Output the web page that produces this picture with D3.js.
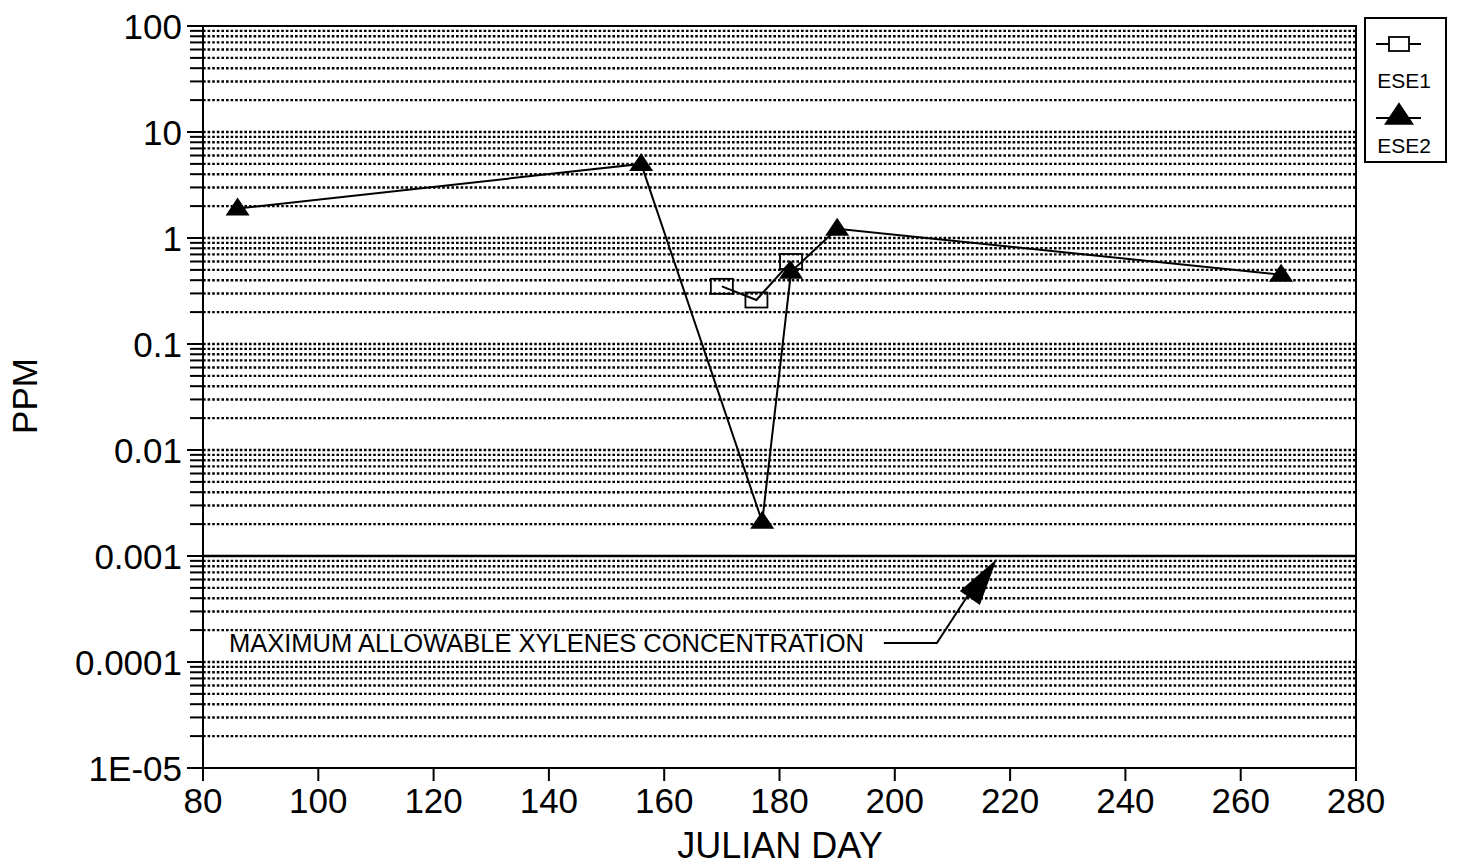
<!DOCTYPE html>
<html>
<head>
<meta charset="utf-8">
<script src="https://cdn.jsdelivr.net/npm/d3@7"></script>
<style>
  html, body { margin: 0; padding: 0; background: #fff; }
  svg { display: block; }
  text { font-family: "Liberation Sans", Arial, Helvetica, sans-serif; fill: #000; }
</style>
</head>
<body>
<svg id="chart" width="1457" height="867"></svg>
<script>
// Xylenes concentration (PPM) by Julian day, two sampling series
const ese1Days = [170, 176, 182];
const ese1Ppm  = [0.35, 0.26, 0.6];
const ese2Days = [86, 156, 177, 182, 190, 267];
const ese2Ppm  = [1.9, 5.0, 0.0021, 0.48, 1.22, 0.45];

const xTicks = [80, 100, 120, 140, 160, 180, 200, 220, 240, 260, 280];
const yTicks = [100, 10, 1, 0.1, 0.01, 0.001, 0.0001, 0.00001];
const yTickLabels = ["100", "10", "1", "0.1", "0.01", "0.001", "0.0001", "1E-05"];

const limitPpm = 0.001;   // maximum allowable xylenes concentration
const limitLabel = "MAXIMUM ALLOWABLE XYLENES CONCENTRATION";

const svg = d3.select("#chart");
const plotL = 203, plotR = 1356, plotT = 26, plotB = 768;

const x = d3.scaleLinear().domain([80, 280]).range([plotL, plotR]);
const y = d3.scaleLog().domain([0.00001, 100]).range([plotB, plotT]);

// minor + major grid values (1..9 x 10^k)
const gridVals = [];
for (let k = -5; k <= 1; k++) {
  for (let m = 1; m <= 9; m++) gridVals.push(+(m * Math.pow(10, k)).toPrecision(3));
}
gridVals.push(100);

// dotted horizontal gridlines
svg.append("g")
  .selectAll("line")
  .data(gridVals.filter(v => v > 0.00001 && v < 100 && v !== limitPpm))
  .join("line")
  .attr("x1", plotL).attr("x2", plotR)
  .attr("y1", d => y(d)).attr("y2", d => y(d))
  .attr("stroke", "#000")
  .attr("stroke-width", 2.4)
  .attr("stroke-dasharray", "2.6,2");

// solid limit line
svg.append("line")
  .attr("x1", plotL).attr("x2", plotR)
  .attr("y1", y(limitPpm)).attr("y2", y(limitPpm))
  .attr("stroke", "#000").attr("stroke-width", 2.5);

// frame
svg.append("rect")
  .attr("x", plotL).attr("y", plotT)
  .attr("width", plotR - plotL).attr("height", plotB - plotT)
  .attr("fill", "none").attr("stroke", "#000").attr("stroke-width", 2);

// y axis ticks (minor + major, outside)
const yAxis = svg.append("g");
yAxis.selectAll("line")
  .data(gridVals)
  .join("line")
  .attr("x1", d => yTicks.includes(d) ? plotL - 16 : plotL - 13)
  .attr("x2", plotL)
  .attr("y1", d => y(d)).attr("y2", d => y(d))
  .attr("stroke", "#000").attr("stroke-width", 2);
yAxis.selectAll("text")
  .data(yTicks)
  .join("text")
  .attr("x", plotL - 21)
  .attr("y", d => y(d) + 13)
  .attr("text-anchor", "end")
  .attr("font-size", 35)
  .text((d, i) => yTickLabels[i]);

// x axis ticks
const xAxis = svg.append("g");
xAxis.selectAll("line")
  .data(xTicks)
  .join("line")
  .attr("x1", d => x(d)).attr("x2", d => x(d))
  .attr("y1", plotB).attr("y2", plotB + 13)
  .attr("stroke", "#000").attr("stroke-width", 2);
xAxis.selectAll("text")
  .data(xTicks)
  .join("text")
  .attr("x", d => x(d))
  .attr("y", plotB + 45)
  .attr("text-anchor", "middle")
  .attr("font-size", 35)
  .text(d => d);

// axis titles
svg.append("text")
  .attr("x", 780).attr("y", 858)
  .attr("text-anchor", "middle")
  .attr("font-size", 36)
  .text("JULIAN DAY");
svg.append("text")
  .attr("transform", `translate(37, 396) rotate(-90)`)
  .attr("text-anchor", "middle")
  .attr("font-size", 35)
  .text("PPM");

// series lines
const line = d3.line().x(d => x(d[0])).y(d => y(d[1]));
const ese1 = ese1Days.map((d, i) => [d, ese1Ppm[i]]);
const ese2 = ese2Days.map((d, i) => [d, ese2Ppm[i]]);

svg.append("path").datum(ese1).attr("d", line)
  .attr("fill", "none").attr("stroke", "#000").attr("stroke-width", 2);
svg.append("path").datum(ese2).attr("d", line)
  .attr("fill", "none").attr("stroke", "#000").attr("stroke-width", 2);

// markers
const sqW = 22, sqH = 15;
svg.append("g").selectAll("rect")
  .data(ese1)
  .join("rect")
  .attr("x", d => x(d[0]) - sqW / 2).attr("y", d => y(d[1]) - sqH / 2)
  .attr("width", sqW).attr("height", sqH)
  .attr("fill", "none").attr("stroke", "#000").attr("stroke-width", 1.8);

const triPath = (cx, cy, s = 1) =>
  `M${cx},${cy - 11 * s}L${cx + 12 * s},${cy + 7 * s}L${cx - 12 * s},${cy + 7 * s}Z`;
svg.append("g").selectAll("path")
  .data(ese2)
  .join("path")
  .attr("d", d => triPath(x(d[0]), y(d[1])))
  .attr("fill", "#000");

// limit annotation with leader and arrowhead
const tipX = x(217.7), tipY = y(limitPpm) + 3;
svg.append("text")
  .attr("x", x(84.5)).attr("y", 652)
  .attr("font-size", 25)
  .attr("textLength", 635)
  .attr("lengthAdjust", "spacingAndGlyphs")
  .text(limitLabel);
svg.append("polyline")
  .attr("points", `${tipX - 113},643 ${tipX - 60},643 ${tipX - 28},594`)
  .attr("fill", "none").attr("stroke", "#000").attr("stroke-width", 2);
svg.append("path")
  .attr("d", `M${tipX},${tipY}L${tipX - 37},${tipY + 32}L${tipX - 17},${tipY + 46}Z`)
  .attr("fill", "#000");

// legend
const lg = svg.append("g");
lg.append("rect")
  .attr("x", 1365).attr("y", 18).attr("width", 81).attr("height", 144)
  .attr("fill", "#fff").attr("stroke", "#000").attr("stroke-width", 2);
lg.append("line").attr("x1", 1376).attr("x2", 1421).attr("y1", 44).attr("y2", 44)
  .attr("stroke", "#000").attr("stroke-width", 1.8);
lg.append("rect").attr("x", 1389).attr("y", 37).attr("width", 20).attr("height", 14)
  .attr("fill", "#fff").attr("stroke", "#000").attr("stroke-width", 1.8);
lg.append("text").attr("x", 1404).attr("y", 88).attr("text-anchor", "middle")
  .attr("font-size", 21).text("ESE1");
lg.append("line").attr("x1", 1376).attr("x2", 1421).attr("y1", 118).attr("y2", 118)
  .attr("stroke", "#000").attr("stroke-width", 1.8);
lg.append("path").attr("d", triPath(1399, 116, 1.25)).attr("fill", "#000");
lg.append("text").attr("x", 1404).attr("y", 153).attr("text-anchor", "middle")
  .attr("font-size", 21).text("ESE2");
</script>
</body>
</html>
